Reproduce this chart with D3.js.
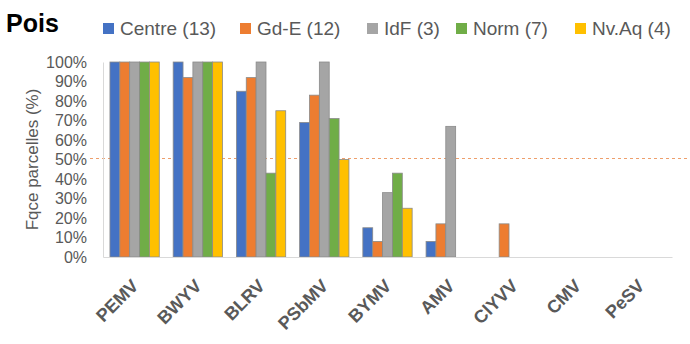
<!DOCTYPE html>
<html>
<head>
<meta charset="utf-8">
<script src="https://cdn.jsdelivr.net/npm/d3@7"></script>
<style>
  body { margin: 0; background: #fff; }
  svg { font-family: "Liberation Sans", Arial, sans-serif; }
</style>
</head>
<body>
<svg id="chart" width="690" height="344"></svg>
<script>
const viruses = ['PEMV', 'BWYV', 'BLRV', 'PSbMV', 'BYMV', 'AMV', 'ClYVV', 'CMV', 'PeSV'];
const regions = ['Centre (13)', 'Gd-E (12)', 'IdF (3)', 'Norm (7)', 'Nv.Aq (4)'];
const colors = ['#4472C4', '#ED7D31', '#A5A5A5', '#70AD47', '#FFC000'];

// % of fields per region, one array per region, in virus order
const centre = [100, 100, 85, 69, 15, 8, 0, 0, 0];
const gdE    = [100, 92, 92, 83, 8, 17, 17, 0, 0];
const idf    = [100, 100, 100, 100, 33, 67, 0, 0, 0];
const norm   = [100, 100, 43, 71, 43, 0, 0, 0, 0];
const nvAq   = [100, 100, 75, 50, 25, 0, 0, 0, 0];
const series = [centre, gdE, idf, norm, nvAq];

const yTicks = [0, 10, 20, 30, 40, 50, 60, 70, 80, 90, 100];
const threshold = 50;

const svg = d3.select('#chart');
const margin = { top: 62, right: 18, bottom: 87, left: 103 };
const width = 690 - margin.left - margin.right;
const height = 344 - margin.top - margin.bottom;

const x = d3.scaleBand().domain(viruses).range([0, width]).paddingInner(0.22).paddingOuter(0.11);
const xs = d3.scaleBand().domain(d3.range(regions.length)).range([0, x.bandwidth()]);
const y = d3.scaleLinear().domain([0, 100]).range([height, 0]);

// title
svg.append('text')
  .attr('x', 6).attr('y', 32)
  .attr('font-size', 25).attr('font-weight', 'bold').attr('fill', '#000')
  .text('Pois');

// legend
const legendX = [103, 240, 367, 456, 575];
const legend = svg.append('g').attr('class', 'legend');
regions.forEach((r, i) => {
  const lg = legend.append('g').attr('transform', `translate(${legendX[i]},23)`);
  lg.append('rect').attr('width', 11).attr('height', 11).attr('fill', colors[i]);
  lg.append('text').attr('x', 17).attr('y', 12)
    .attr('font-size', 19).attr('fill', '#595959').text(r);
});

// 50% threshold line, behind the bars (snapped to pixel so the colour stays visible)
const yThr = Math.round(margin.top + y(threshold)) - 1.5;
svg.append('line')
  .attr('x1', 90).attr('x2', 690)
  .attr('y1', yThr).attr('y2', yThr)
  .attr('stroke', '#EE9F6C').attr('stroke-width', 1)
  .attr('stroke-dasharray', '3,3');

const g = svg.append('g').attr('transform', `translate(${margin.left},${margin.top})`);

// y axis
g.append('g')
  .attr('class', 'y-axis')
  .call(d3.axisLeft(y).tickValues(yTicks).tickSize(0).tickPadding(16).tickFormat(d => d + '%'))
  .call(a => a.select('.domain').attr('stroke', '#d9d9d9'))
  .selectAll('text')
  .attr('font-size', 16).attr('fill', '#595959').attr('font-family', '"Liberation Sans", Arial, sans-serif');

svg.append('text')
  .attr('transform', `translate(38,${margin.top + height / 2}) rotate(-90)`)
  .attr('text-anchor', 'middle')
  .attr('font-size', 17).attr('fill', '#595959')
  .text('Fqce parcelles (%)');

// bars
const groups = g.selectAll('.grp')
  .data(viruses)
  .enter().append('g')
  .attr('class', 'grp')
  .attr('transform', d => `translate(${x(d)},0)`);

groups.selectAll('rect')
  .data((d, vi) => series.map((s, ri) => ({ ri, v: s[vi] })).filter(e => e.v > 0))
  .enter().append('rect')
  .attr('x', d => xs(d.ri))
  .attr('y', d => y(d.v))
  .attr('width', xs.bandwidth())
  .attr('height', d => height - y(d.v))
  .attr('fill', d => colors[d.ri])
  .attr('stroke', '#8a8a8a')
  .attr('stroke-width', 0.8);

// x axis
g.append('g')
  .attr('class', 'x-axis')
  .attr('transform', `translate(0,${height})`)
  .call(d3.axisBottom(x).tickSize(0).tickPadding(0))
  .call(a => a.select('.domain').attr('stroke', '#d9d9d9'))
  .selectAll('text')
  .attr('font-size', 18).attr('font-weight', 'bold').attr('fill', '#595959')
  .attr('font-family', '"Liberation Sans", Arial, sans-serif')
  .attr('text-anchor', 'end')
  .attr('dy', 0)
  .attr('transform', 'translate(5,30) rotate(-45)');
</script>
</body>
</html>
